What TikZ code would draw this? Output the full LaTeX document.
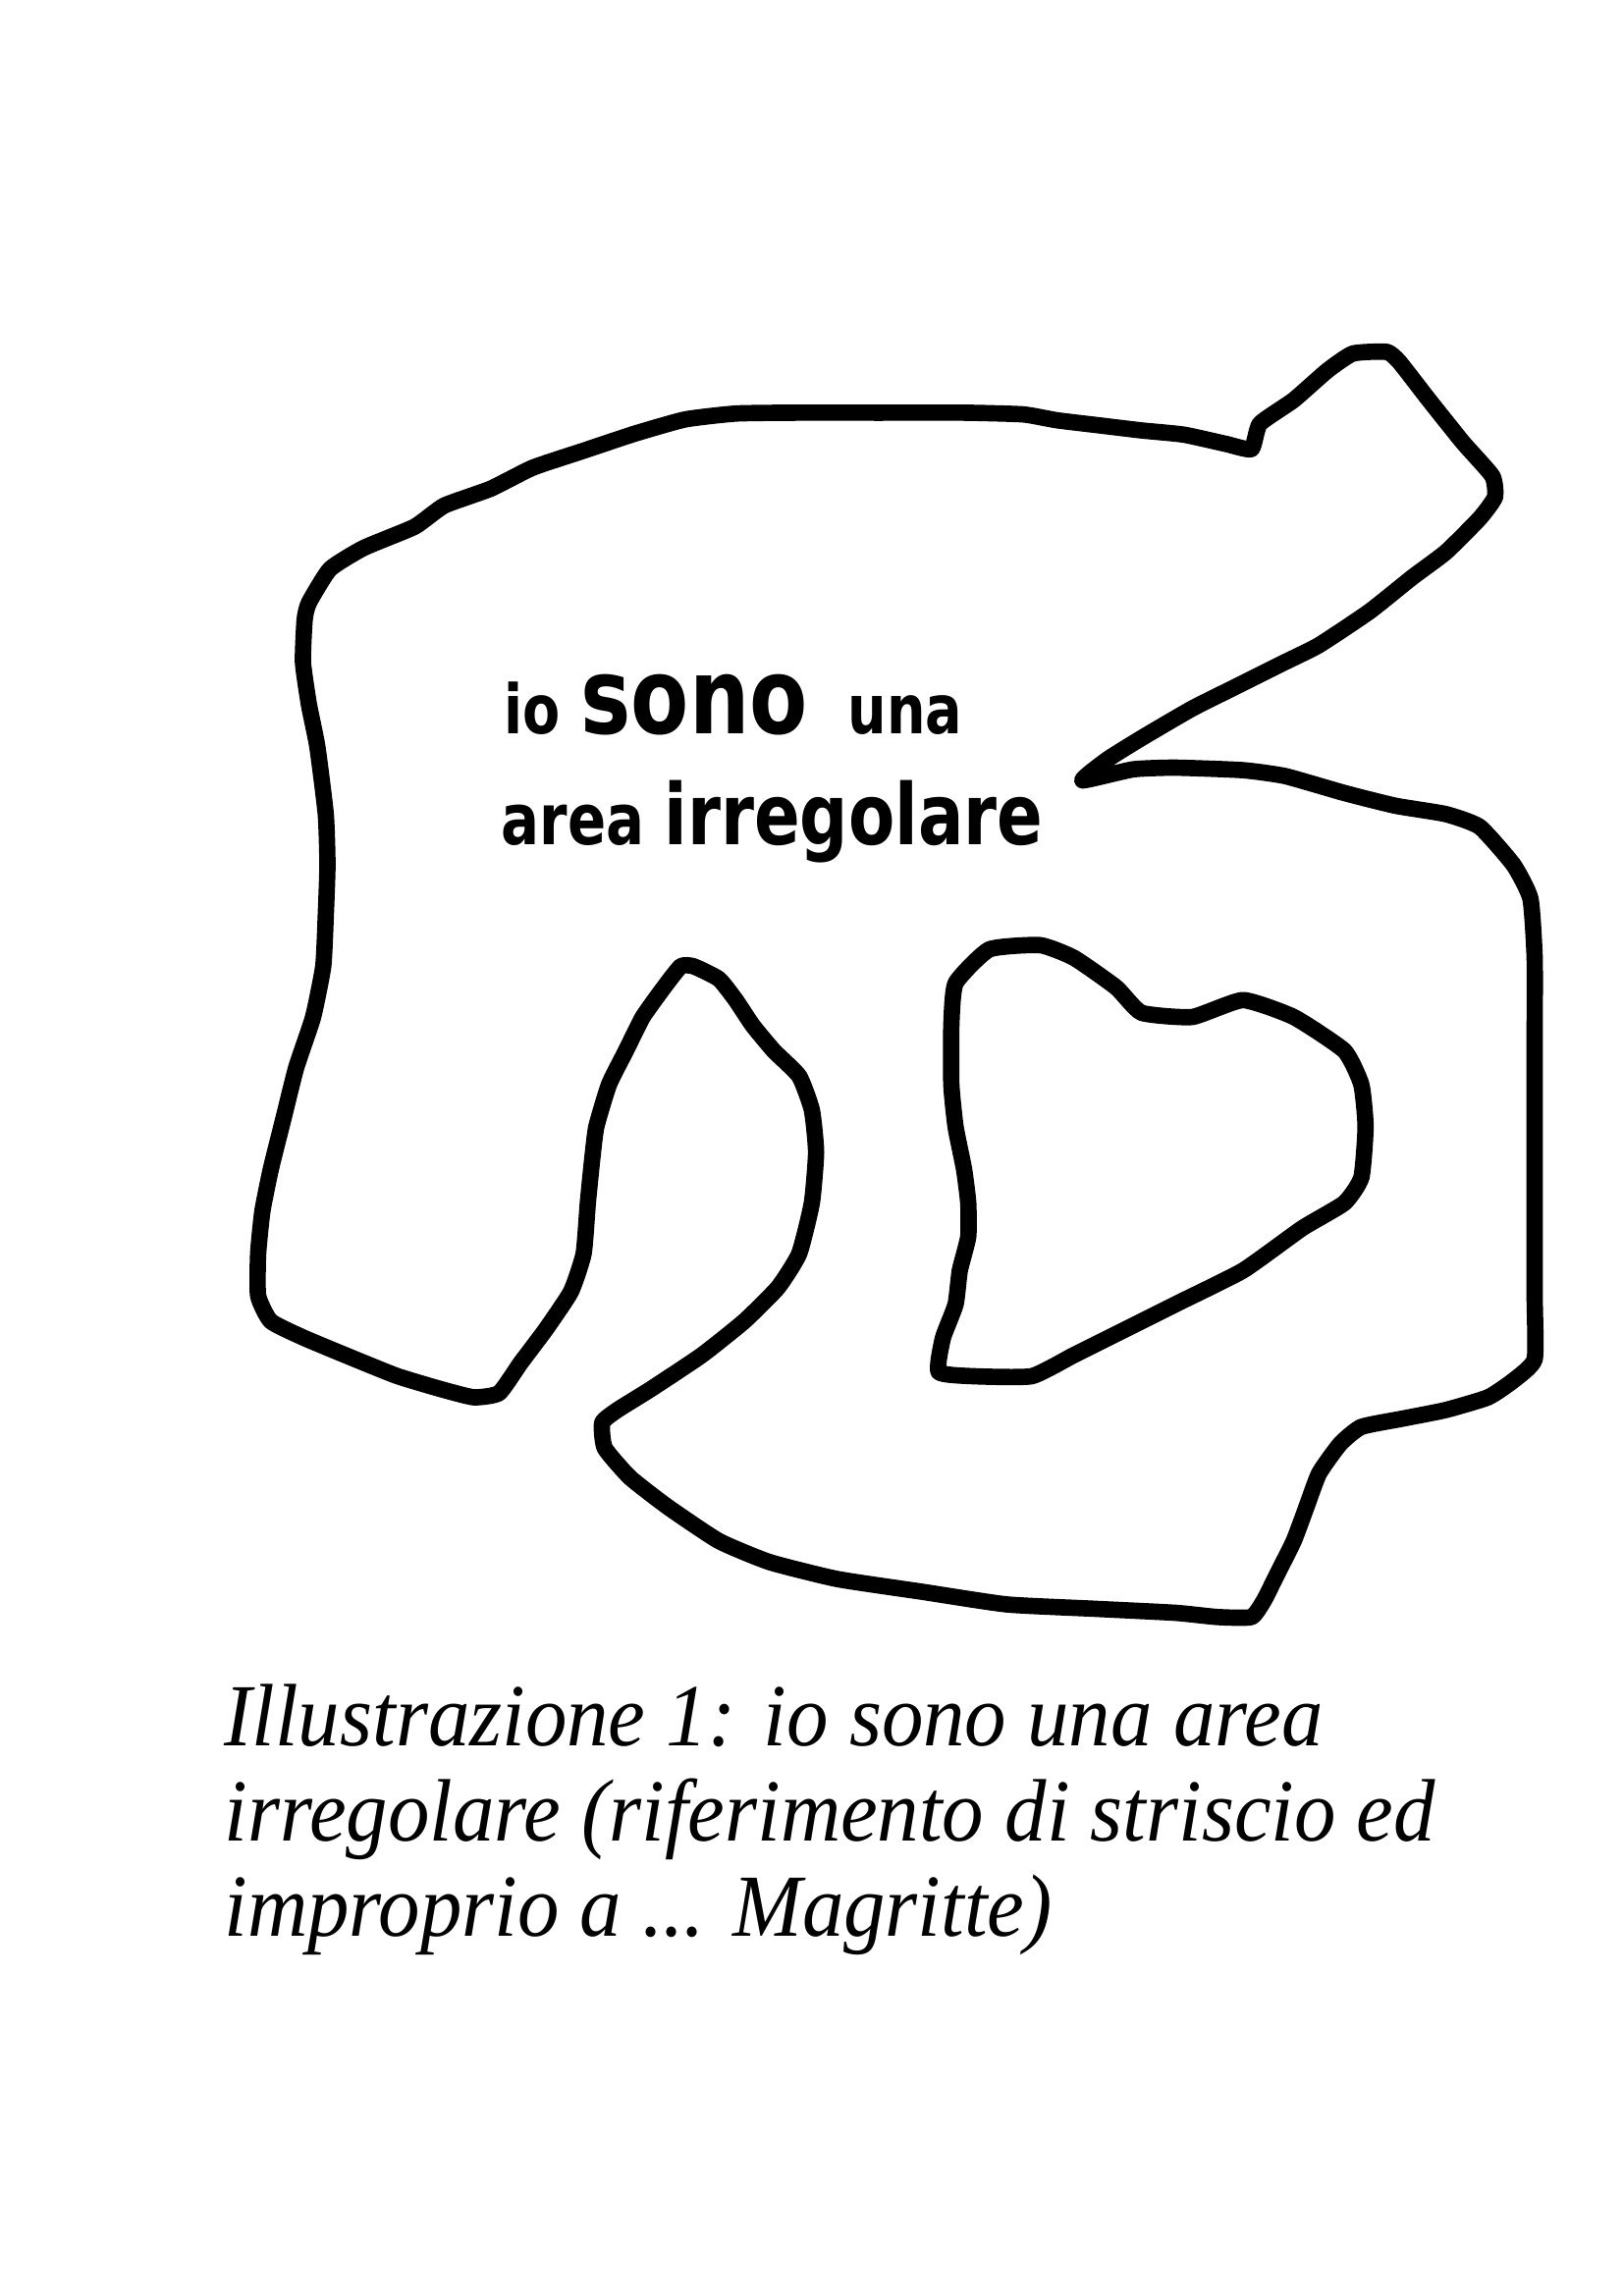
\documentclass[tikz,border=0pt]{standalone}
\usepackage{fontspec}
\setmainfont{Liberation Serif}
\newfontfamily\insans[FakeStretch=0.8]{DejaVu Sans}
\newfontfamily\capfont[FakeStretch=0.94]{Liberation Serif}
\begin{document}
\begin{tikzpicture}[x=0.36pt,y=-0.36pt,
  outline/.style={draw=black,line width=6pt,line join=round,line cap=round},
  inword/.style={anchor=base west,inner sep=0pt,font=\insans\bfseries},
  capline/.style={anchor=base west,inner sep=0pt,font=\capfont\itshape\fontsize{32.5}{36}\selectfont}]
\useasboundingbox[fill=white] (0,0) rectangle (1653,2339);
\begin{scope}[shift={(250,330)},scale=0.861]
\draw[outline] plot[smooth cycle,tension=0.3] coordinates {
 (75,330) (100,290) (140,265) (200,240) (235,215) (290,195) (340,170) (400,150)
 (460,130) (520,113) (580,106) (650,105) (750,105) (850,105) (920,107) (960,114)
 (1010,120) (1060,126) (1110,131) (1160,142) (1190,148) (1200,118) (1240,90)
 (1280,55) (1310,35) (1350,33) (1365,45) (1400,90) (1440,140) (1475,180)
 (1478,205) (1460,230) (1420,270) (1380,300) (1330,340) (1270,380) (1230,400)
 (1180,425) (1120,455) (1060,490) (1020,515) (990,540) (1050,527) (1100,525)
 (1180,528) (1230,535) (1300,555) (1360,570) (1420,580) (1460,595) (1500,640)
 (1520,680) (1525,750) (1525,850) (1525,1000) (1525,1150) (1525,1225)
 (1500,1250) (1470,1270) (1420,1285) (1370,1295) (1320,1305) (1295,1325)
 (1270,1360) (1255,1400) (1240,1440) (1220,1480) (1205,1510) (1190,1530)
 (1150,1530) (1100,1525) (1000,1520) (900,1515) (800,1500) (700,1485)
 (620,1465) (560,1440) (500,1400) (455,1365) (425,1330) (422,1300) (440,1285)
 (480,1260) (540,1220) (590,1180) (630,1140) (655,1100) (670,1040) (675,980)
 (670,930) (655,890) (625,860) (600,830) (580,800) (560,775) (530,760)
 (515,760) (495,785) (470,820) (450,860) (430,900) (415,950) (410,990)
 (405,1040) (400,1100) (385,1145) (355,1190) (325,1230) (300,1265) (270,1270)
 (230,1260) (180,1245) (130,1225) (70,1200) (30,1180) (15,1150) (15,1100)
 (20,1050) (30,1000) (45,940) (60,880) (80,820) (92,760) (95,700) (97,640)
 (95,580) (85,500) (75,450) (68,400) (70,350)};
\draw[outline] plot[smooth cycle,tension=0.3] coordinates {
 (840,780) (880,740) (940,735) (980,750) (1030,785) (1060,815) (1120,820)
 (1180,800) (1240,820) (1300,860) (1320,900) (1325,950) (1320,1010)
 (1300,1040) (1250,1070) (1180,1120) (1100,1160) (1020,1200) (980,1220)
 (930,1245) (860,1245) (820,1240) (825,1200) (840,1160) (845,1120) (855,1080)
 (855,1040) (850,1000) (840,950) (835,900) (835,830)};
\end{scope}
\node[inword,font=\insans\bfseries\fontsize{25}{30}\selectfont] (w1) at (513,747) {io};
\node[inword,font=\insans\bfseries\fontsize{38.8}{44}\selectfont] (w2) at (591,747) {sono};
\node[inword,font=\insans\bfseries\fontsize{25}{30}\selectfont] (w3) at (863,747) {una};
\node[inword,font=\insans\bfseries\fontsize{26}{30}\selectfont] (w4) at (510,860) {area};
\node[inword,font=\insans\bfseries\fontsize{31}{36}\selectfont] (w5) at (676,860) {irregolare};
\node[capline] (c1) at (228,1778) {Illustrazione 1: io sono una area};
\node[capline] (c2) at (228,1875) {irregolare (riferimento di striscio ed};
\node[capline] (c3) at (228,1972) {improprio a ... Magritte)};
\end{tikzpicture}
\end{document}
